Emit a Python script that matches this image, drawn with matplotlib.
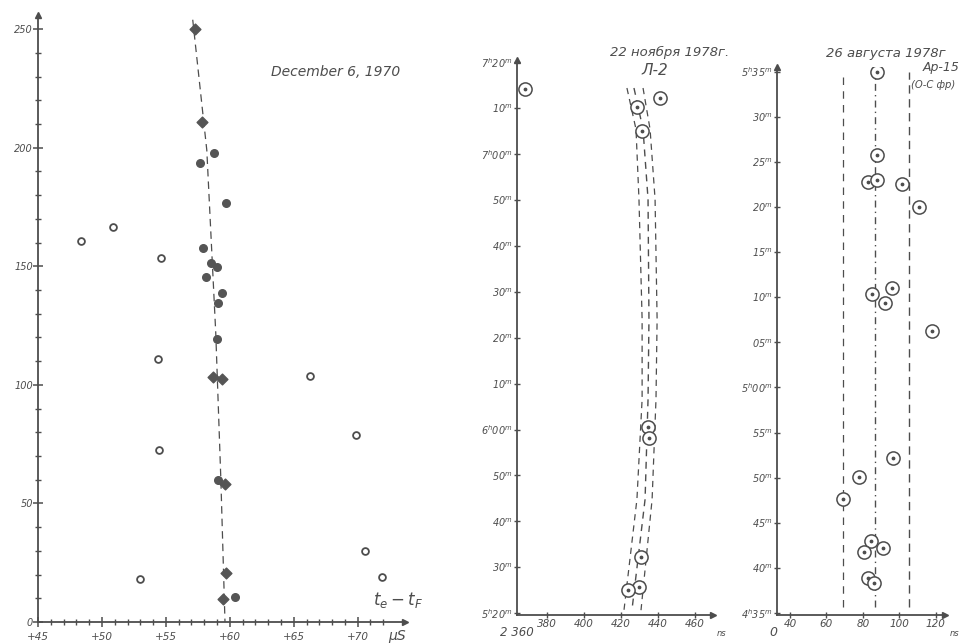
import numpy as np
import matplotlib
matplotlib.use("Agg")
import matplotlib.pyplot as plt

INK = "#4d4d4d"
plt.rcParams["font.family"] = ["DejaVu Sans"]
plt.rcParams["font.style"] = "italic"
plt.rcParams["mathtext.default"] = "it"

# ---- panel 1: December 6, 1970 (x in mS, y = Np)
p1_diamond_x = [57.3, 57.8, 58.7, 59.4, 59.6, 59.7, 59.5]
p1_diamond_y = [250, 211, 103.5, 102.5, 58, 20.7, 9.7]
p1_filled_x = [58.75, 57.66, 59.7, 57.9, 58.5, 59.0, 58.1, 59.4, 59.1, 59.0, 59.1, 60.4]
p1_filled_y = [198, 193.5, 176.6, 157.7, 151.3, 149.6, 145.5, 138.8, 134.5, 119.3, 60, 10.5]
p1_open_x = [48.35, 50.86, 54.6, 54.4, 54.5, 53.0, 66.3, 69.9, 70.6, 71.9]
p1_open_y = [160.7, 166.7, 153.7, 111, 72.5, 18, 103.7, 79, 30, 19]
p1_line_x = [57.1, 58.2, 58.9, 59.3, 59.65]
p1_line_y = [254, 199, 122, 60, -5]

# ---- panel 2: 22 ноября 1978 (x in ns, y = minutes after 5h20m)
p2_x = [368.1, 441.1, 428.6, 431.4, 434.6, 435.1, 430.8, 429.7, 423.8]
p2_t = [114.2, 112.2, 110.2, 105.0, 40.5, 38.1, 12.2, 5.7, 5.0]
p2_curve_t = [114.4, 105.4, 90.2, 64.0, 46.6, 24.8, 0.65]
p2_left_x = [423.2, 428.1, 429.7, 431.4, 431.4, 428.6, 421.6]
p2_mid_x = [427.0, 431.9, 434.6, 435.1, 434.6, 433.0, 425.9]
p2_right_x = [431.9, 435.7, 438.4, 439.5, 438.9, 436.8, 430.8]
p2_ticks = [0, 10, 20, 30, 40, 50, 60, 70, 80, 90, 100, 110, 120]
p2_labels = ["5^h20^m", "30^m", "40^m", "50^m", "6^h00^m", "10^m", "20^m",
             "30^m", "40^m", "50^m", "7^h00^m", "10^m", "7^h20^m"]

# ---- panel 3: 26 августа 1978 (x in ns, y = minutes after 4h35m)
p3_x = [87.5, 87.5, 82.6, 87.5, 101.7, 110.5, 84.8, 95.7, 91.9,
        117.6, 96.3, 77.7, 69.0, 84.3, 80.4, 90.8, 82.6, 85.9]
p3_t = [60.0, 50.7, 47.8, 48.0, 47.5, 45.0, 35.4, 36.0, 34.4,
        31.3, 17.2, 15.1, 12.6, 8.0, 6.8, 7.2, 3.9, 3.3]
p3_vlines = [69.0, 86.5, 105.0]
p3_ticks = [0, 5, 10, 15, 20, 25, 30, 35, 40, 45, 50, 55, 60]
p3_labels = ["4^h35^m", "40^m", "45^m", "50^m", "55^m", "5^h00^m", "05^m",
             "10^m", "15^m", "20^m", "25^m", "30^m", "5^h35^m"]

fig = plt.figure(figsize=(9.62, 6.43), dpi=100)


def base_axes(rect):
    ax = fig.add_axes(rect)
    ax.patch.set_alpha(0)
    for s in ["top", "right"]:
        ax.spines[s].set_visible(False)
    for s in ["left", "bottom"]:
        ax.spines[s].set_color(INK)
        ax.spines[s].set_linewidth(1.3)
    ax.tick_params(colors=INK, labelcolor=INK, which="both", direction="inout")
    # arrow heads
    ax.plot(1, 0, ">", color=INK, ms=4, transform=ax.transAxes, clip_on=False)
    ax.plot(0, 1, "^", color=INK, ms=4, transform=ax.transAxes, clip_on=False)
    return ax


# panel 1
ax1 = base_axes([38 / 962, 21 / 643, 367 / 962, 607 / 643])
ax1.set_xlim(45, 73.7)
ax1.set_ylim(0, 256)
ax1.plot(p1_line_x, p1_line_y, ls=(0, (6, 4)), color=INK, lw=0.9)
ax1.scatter(p1_filled_x, p1_filled_y, s=30, marker="o", color="#555555", zorder=3)
ax1.scatter(p1_diamond_x, p1_diamond_y, s=30, marker="D", color="#555555", zorder=3)
ax1.scatter(p1_open_x, p1_open_y, s=24, marker="o", facecolor="white",
            edgecolor=INK, linewidth=1.3, zorder=3)
ax1.set_xticks([45, 50, 55, 60, 65, 70])
ax1.set_xticklabels(["+45", "+50", "+55", "+60", "+65", "+70"], fontsize=7.5)
ax1.set_xticks(np.arange(46, 73, 1), minor=True)
ax1.set_yticks([0, 50, 100, 150, 200, 250])
ax1.set_yticklabels(["0", "50", "100", "150", "200", "250"], fontsize=7)
ax1.set_yticks(np.arange(10, 250, 10), minor=True)
ax1.tick_params(which="major", length=7, width=1.1)
ax1.tick_params(which="minor", length=5, width=1.0)
ax1.tick_params(axis="y", pad=0)
ax1.text(1.7, 248, "$N_p$", fontsize=12, color=INK, va="center")
ax1.text(63.2, 232, "December 6, 1970", fontsize=10, color=INK, va="center")
ax1.text(71.2, 5, "$t_e - t_F$", fontsize=12, color=INK, va="bottom")
ax1.text(72.4, -3, "μS", fontsize=10, color=INK, va="top")

# panel 2
ax2 = base_axes([517 / 962, 28 / 643, 196 / 962, 555 / 643])
ax2.set_xlim(363.8, 469.7)
ax2.set_ylim(-0.4, 120.5)
dash = (0, (5, 4))
ax2.plot(p2_left_x, p2_curve_t, ls=dash, color=INK, lw=0.9)
ax2.plot(p2_mid_x, p2_curve_t, ls=dash, color=INK, lw=1.0)
ax2.plot(p2_right_x, p2_curve_t, ls=dash, color=INK, lw=0.9)
ax2.scatter(p2_x, p2_t, s=90, marker="o", facecolor="white", edgecolor=INK,
            linewidth=1.1, zorder=3)
ax2.scatter(p2_x, p2_t, s=3, marker="o", color=INK, zorder=4)
ax2.set_xticks([380, 400, 420, 440, 460])
ax2.set_xticklabels(["380", "400", "420", "440", "460"], fontsize=7.5)
ax2.text(0, -0.02, "2 360", transform=ax2.transAxes, fontsize=8.5, color=INK,
         ha="center", va="top")
ax2.text(1.02, -0.025, "ns", transform=ax2.transAxes, fontsize=6, color=INK, va="top")
ax2.set_yticks(p2_ticks)
ax2.set_yticklabels(["$" + s + "$" for s in p2_labels], fontsize=7)
ax2.tick_params(length=4, width=1, pad=1)
ax2.text(446.5, 122.2, "22 ноября 1978г.", fontsize=9.5, color=INK,
         ha="center", va="center", clip_on=False)
ax2.text(438, 118.3, "Л-2", fontsize=11, color=INK, ha="center", va="center")

# panel 3
ax3 = base_axes([777 / 962, 28 / 643, 168 / 962, 548 / 643])
ax3.set_xlim(32.9, 125)
ax3.set_ylim(-0.2, 60.5)
ax3.vlines(p3_vlines[0], 0.7, 60, colors=INK, linestyles=(0, (6, 5)), lw=0.9)
ax3.vlines(p3_vlines[1], 0.7, 60, colors=INK, linestyles=(0, (5, 3, 1, 3)), lw=1.0)
ax3.vlines(p3_vlines[2], 0.7, 60, colors=INK, linestyles=(0, (6, 4)), lw=1.0)
ax3.scatter(p3_x, p3_t, s=90, marker="o", facecolor="white", edgecolor=INK,
            linewidth=1.1, zorder=3)
ax3.scatter(p3_x, p3_t, s=3, marker="o", color=INK, zorder=4)
ax3.set_xticks([40, 60, 80, 100, 120])
ax3.set_xticklabels(["40", "60", "80", "100", "120"], fontsize=7.5)
ax3.text(-0.02, -0.02, "0", transform=ax3.transAxes, fontsize=9, color=INK,
         ha="center", va="top")
ax3.text(1.03, -0.025, "ns", transform=ax3.transAxes, fontsize=6, color=INK, va="top")
ax3.set_yticks(p3_ticks)
ax3.set_yticklabels(["$" + s + "$" for s in p3_labels], fontsize=7)
ax3.tick_params(length=4, width=1, pad=1)
ax3.text(92.5, 62.0, "26 августа 1978г", fontsize=9.5, color=INK,
         ha="center", va="center", clip_on=False)
ax3.text(112.5, 60.4, "Ар-15", fontsize=9, color=INK, va="center", clip_on=False)
ax3.text(106.2, 58.5, "(O-C фр)", fontsize=7.2, color=INK, va="center")

fig.savefig("out.png", dpi=100, facecolor="white")
